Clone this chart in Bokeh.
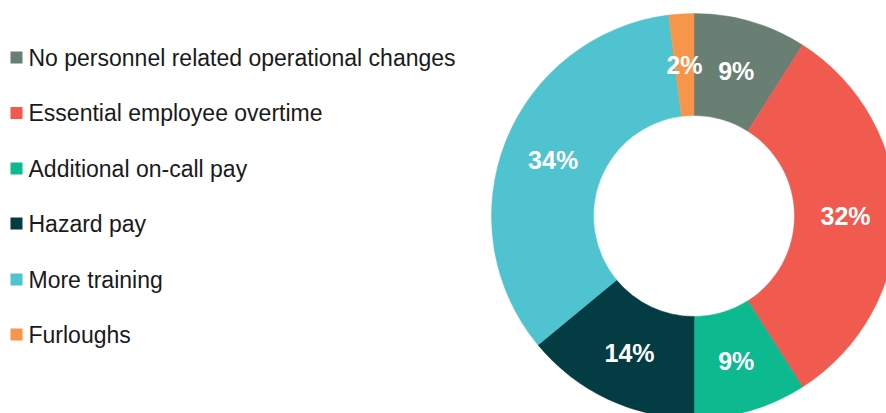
import numpy as np
from bokeh.plotting import figure
from bokeh.models import Range1d, ColumnDataSource
from bokeh.core.properties import value
from bokeh.embed import file_html
from bokeh.resources import INLINE

categories = ["No personnel related operational changes", "Essential employee overtime",
              "Additional on-call pay", "Hazard pay", "More training", "Furloughs"]
values = [9, 32, 9, 14, 34, 2]
palette = ["#6a7f73", "#f05a4f", "#0db98f", "#033c42", "#4fc3cf", "#f7964a"]

W, H = 886, 413
p = figure(width=W, height=H, output_backend="svg", toolbar_location=None,
           x_range=Range1d(0, W), y_range=Range1d(0, H), min_border=0,
           background_fill_color="white", border_fill_color="white")
p.axis.visible = False
p.grid.visible = False
p.outline_line_color = None

cx, cy = 693.5, H - 215.5
r_in, r_out = 100.5, 202.5

vals = np.array(values, dtype=float)
frac = vals / vals.sum()
cum_end = np.cumsum(frac) * 2 * np.pi
cum_start = cum_end - frac * 2 * np.pi
start = np.pi / 2 - cum_end
end = np.pi / 2 - cum_start
mid = (start + end) / 2
r_lab = (r_in + r_out) / 2

src = ColumnDataSource(dict(start=start, end=end, color=palette,
                            lx=cx + r_lab * np.cos(mid), ly=cy + r_lab * np.sin(mid),
                            label=[f"{v}%" for v in values]))
p.annular_wedge(x=cx, y=cy, inner_radius=r_in, outer_radius=r_out,
                start_angle="start", end_angle="end", fill_color="color",
                line_color="color", line_width=0.5, source=src)
p.text(x="lx", y="ly", text="label", source=src, text_color="white",
       text_font=value("Liberation Sans"), text_font_style="bold",
       text_font_size="25px", text_align="center", text_baseline="middle")

# legend
ys = [H - y for y in [57, 112.5, 168, 223, 279, 334]]
lsrc = ColumnDataSource(dict(x=[16] * 6, tx=[28] * 6, y=ys, color=palette, name=categories))
p.scatter(x="x", y="y", marker="square", size=12, fill_color="color", line_color=None, source=lsrc)
p.text(x="tx", y="y", text="name", source=lsrc, text_color="#1a1a1a",
       text_font=value("Liberation Sans"), text_font_size="23px",
       text_align="left", text_baseline="middle")

open("out.html", "w").write(file_html(p, INLINE))
